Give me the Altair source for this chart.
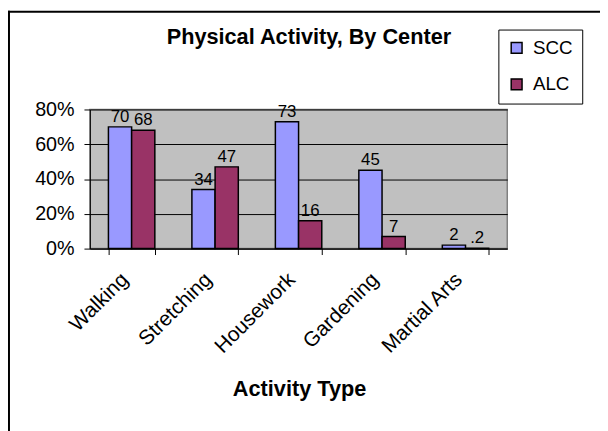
import altair as alt
import pandas as pd

categories = ["Walking", "Stretching", "Housework", "Gardening", "Martial Arts"]
series = ["SCC", "ALC"]
scc = [70, 34, 73, 45, 2]
alc = [68, 47, 16, 7, 0.2]
colors = ["#9999FF", "#993366"]
y_ticks = [0, 0.2, 0.4, 0.6, 0.8]
chart_title = "Physical Activity, By Center"

rows = []
for cat, s, a in zip(categories, scc, alc):
    for name, v in ((series[0], s), (series[1], a)):
        rows.append({"activity": cat, "center": name, "value": v / 100.0,
                     "label": f"{v:g}".lstrip("0")})
df = pd.DataFrame(rows)

FONT = "Liberation Sans"
W, H = 423, 141

x_enc = alt.X("activity:N", sort=categories,
              scale=alt.Scale(paddingInner=0.444, paddingOuter=0.222),
              axis=alt.Axis(title="Activity Type", labelAngle=-45, labelAlign="right",
                            labelBaseline="bottom", labelFontSize=21, labelPadding=29,
                            labelColor="black", tickBand="extent", tickSize=6,
                            tickColor="black", domainColor="black", labelOverlap=False,
                            titleFontSize=22, titleFontWeight="bold", titleColor="black",
                            titleX=212, titleY=149, titleBaseline="alphabetic",
                            titleAnchor="start", titleAlign="center"))
xoff = alt.XOffset("center:N", sort=series, scale=alt.Scale(paddingInner=0, paddingOuter=0))
y_enc = alt.Y("value:Q", scale=alt.Scale(domain=[0, 0.8], nice=False),
              axis=alt.Axis(title=None, values=y_ticks, format=".0%", labelFontSize=20,
                            labelColor="black", tickSize=6, tickColor="black",
                            domainColor="black", grid=True, gridColor="black",
                            gridOpacity=1, labelOverlap=False, labelPadding=10))

base = alt.Chart(df)

bars = base.mark_bar(stroke="black", strokeWidth=1.5).encode(
    x=x_enc, xOffset=xoff, y=y_enc,
    color=alt.Color("center:N", sort=series,
                    scale=alt.Scale(domain=series, range=colors),
                    legend=alt.Legend(title=None, orient="none", legendX=414, legendY=-81,
                                      direction="vertical", symbolType="square",
                                      symbolSize=121, symbolStrokeColor="black",
                                      symbolStrokeWidth=1.5, symbolOpacity=1,
                                      labelFontSize=19, labelColor="black", labelOffset=7,
                                      rowPadding=17, padding=9, strokeColor="black",
                                      fillColor="white", labelLimit=200)),
)

labels = base.mark_text(baseline="bottom", dy=-1, fontSize=17, color="black", font=FONT).encode(
    x=x_enc, xOffset=xoff, y=y_enc, text="label:N",
)

one = alt.Data(values=[{"t": chart_title}])
title_mark = alt.Chart(one).mark_text(fontSize=22, fontWeight="bold", font=FONT,
                                      color="black", align="center",
                                      baseline="alphabetic").encode(
    x=alt.value(222), y=alt.value(-66), text="t:N",
)

frame = alt.Chart(one).mark_rule(color="black", strokeWidth=2).encode(
    x=alt.value(-82), x2=alt.value(-82), y=alt.value(-100), y2=alt.value(330),
)
frame_top = alt.Chart(one).mark_rule(color="black", strokeWidth=2).encode(
    x=alt.value(-83), x2=alt.value(520), y=alt.value(-99), y2=alt.value(-99),
)

chart = alt.layer(bars, labels, title_mark, frame, frame_top).properties(
    width=W, height=H,
    autosize=alt.AutoSizeParams(type="none"),
    padding={"left": 83, "top": 100, "right": 94, "bottom": 182},
).configure(font=FONT).configure_view(
    fill="#C0C0C0", stroke="#808080", strokeWidth=1.5
).configure_axis(labelFont=FONT, titleFont=FONT).configure_legend(labelFont=FONT)

chart.save("out.html", embed_options={"renderer": "svg", "actions": False})
